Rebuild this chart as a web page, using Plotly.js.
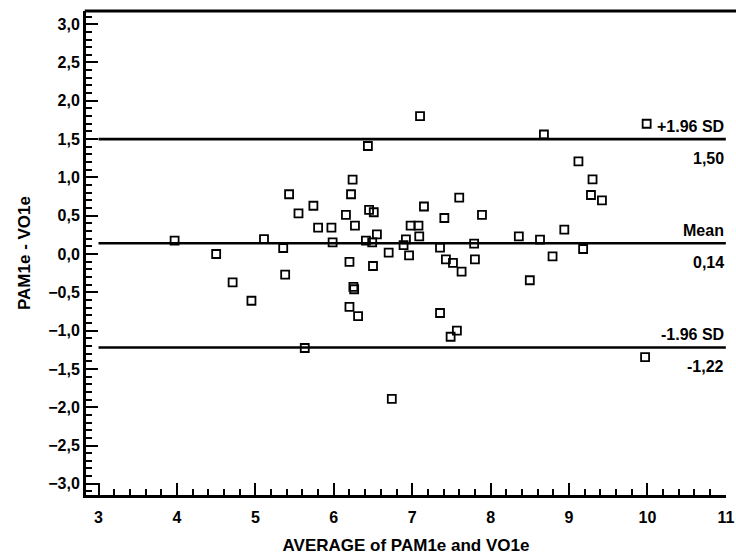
<!DOCTYPE html>
<html>
<head>
<meta charset="utf-8">
<script src="https://cdn.plot.ly/plotly-3.0.1.min.js"></script>
<style>html,body{margin:0;padding:0;background:#fff;}#chart{width:736px;height:558px;}</style>
</head>
<body>
<div id="chart"></div>
<script>
// Bland-Altman data: average (x) and difference (y)
var avgValues = [3.97, 4.50, 4.71, 4.95, 5.11, 5.355, 5.38, 5.43, 5.55, 5.63, 5.74, 5.80, 5.97, 5.985, 6.155, 6.20, 6.20, 6.22, 6.24, 6.25, 6.26, 6.27, 6.31, 6.41, 6.435, 6.45, 6.49, 6.50, 6.51, 6.55, 6.70, 6.74, 6.89, 6.92, 6.96, 6.98, 7.08, 7.09, 7.10, 7.15, 7.355, 7.355, 7.41, 7.43, 7.49, 7.52, 7.57, 7.60, 7.63, 7.79, 7.80, 7.89, 8.36, 8.50, 8.63, 8.68, 8.79, 8.94, 9.12, 9.18, 9.28, 9.30, 9.42, 9.97, 9.99];
var diffValues = [0.174, 0.0, -0.37, -0.61, 0.195, 0.078, -0.27, 0.78, 0.53, -1.227, 0.63, 0.345, 0.345, 0.152, 0.51, -0.104, -0.69, 0.78, 0.97, -0.43, -0.46, 0.37, -0.81, 0.174, 1.41, 0.575, 0.152, -0.157, 0.545, 0.257, 0.017, -1.89, 0.117, 0.19, -0.017, 0.37, 0.37, 0.23, 1.80, 0.62, 0.083, -0.77, 0.47, -0.07, -1.08, -0.117, -1.00, 0.735, -0.23, 0.135, -0.07, 0.51, 0.23, -0.343, 0.187, 1.56, -0.03, 0.317, 1.21, 0.065, 0.77, 0.975, 0.70, -1.345, 1.70];

var refNames = ['+1.96 SD', 'Mean', '-1.96 SD'];
var refValues = [1.50, 0.14, -1.22];
var xTicks = [3, 4, 5, 6, 7, 8, 9, 10, 11];

var FONT = 'Liberation Sans, Arial, Helvetica, sans-serif';

var shapes = [];
var annotations = [];
refValues.forEach(function (v, i) {
  shapes.push({type: 'line', xref: 'x', yref: 'y', x0: 3, x1: 11, y0: v, y1: v,
    line: {color: '#000', width: 2.6}});
  annotations.push({xref: 'x', yref: 'y', x: 11, y: v, xanchor: 'right', yanchor: 'bottom',
    yshift: 2, showarrow: false, text: refNames[i],
    font: {family: FONT, size: 16, color: '#000', weight: 'bold'}});
  annotations.push({xref: 'x', yref: 'y', x: 11, y: v, xanchor: 'right', yanchor: 'top',
    yshift: -9, showarrow: false, text: v.toFixed(2).replace('.', ','),
    font: {family: FONT, size: 16, color: '#000', weight: 'bold'}});
});
// top border (extends to right edge, no right border)
shapes.push({type: 'line', xref: 'paper', yref: 'paper', x0: -0.002, x1: 1.02, y0: 1, y1: 1,
  line: {color: '#000', width: 3}});

var trace = {
  type: 'scatter', mode: 'markers', x: avgValues, y: diffValues,
  marker: {symbol: 'square-open', size: 8, color: '#000', line: {color: '#000', width: 1.8}},
  hoverinfo: 'x+y', showlegend: false
};

var layout = {
  width: 736, height: 558,
  margin: {l: 86, r: 10, t: 11, b: 63, pad: 0},
  paper_bgcolor: '#fff', plot_bgcolor: '#fff',
  separators: ',.',
  font: {family: FONT, size: 16, color: '#000', weight: 'bold'},
  showlegend: false,
  xaxis: {
    range: [2.84, 11.002], showgrid: false, zeroline: false,
    showline: true, linecolor: '#000', linewidth: 3,
    tickmode: 'array', tickvals: xTicks, ticktext: xTicks.map(String),
    ticks: 'inside', ticklen: 12, tickwidth: 2, tickcolor: '#000',
    ticklabelstandoff: 6,
    tickfont: {family: FONT, size: 16, color: '#000', weight: 'bold'},
    minor: {tick0: 3, dtick: 0.2, ticks: 'inside', ticklen: 6, tickwidth: 2, tickcolor: '#000', showgrid: false},
    title: {text: 'AVERAGE of PAM1e and VO1e', standoff: 14,
      font: {family: FONT, size: 17, color: '#000', weight: 'bold'}}
  },
  yaxis: {
    range: [-3.146, 3.172], showgrid: false, zeroline: false,
    showline: true, linecolor: '#000', linewidth: 3,
    tick0: 0, dtick: 0.5, tickformat: '.1f',
    ticks: 'inside', ticklen: 12, tickwidth: 2, tickcolor: '#000',
    tickfont: {family: FONT, size: 16, color: '#000', weight: 'bold'},
    minor: {tick0: 0, dtick: 0.1, ticks: 'inside', ticklen: 6, tickwidth: 2, tickcolor: '#000', showgrid: false},
    title: {text: 'PAM1e - VO1e', standoff: 14,
      font: {family: FONT, size: 17, color: '#000', weight: 'bold'}}
  },
  shapes: shapes,
  annotations: annotations
};

Plotly.newPlot('chart', [trace], layout, {staticPlot: true, displayModeBar: false});
</script>
</body>
</html>
